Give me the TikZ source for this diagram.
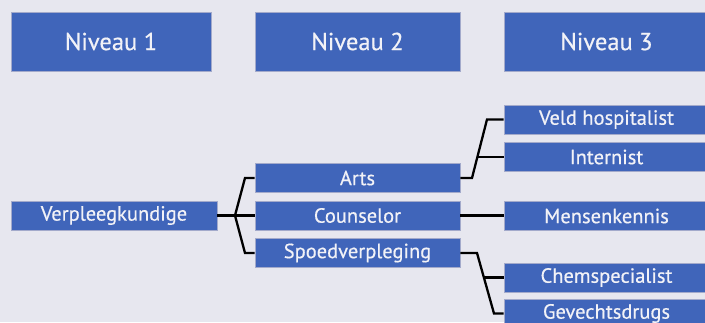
\documentclass[tikz,border=0pt]{standalone}
\usepackage{fontspec}
\setmainfont{PT Sans}[UprightFeatures={FakeBold=0.5}]
\definecolor{bg}{HTML}{E7E7EF}
\definecolor{boxblue}{HTML}{4065BA}
\definecolor{boxedge}{HTML}{A3AACB}
\definecolor{boxtext}{HTML}{F2F2F7}
\tikzset{
  base/.style={fill=boxblue, draw=boxedge, line width=0.8pt, text=boxtext, inner sep=0pt, anchor=center},
  header/.style={base, minimum width=200pt, minimum height=59pt, font=\fontsize{24.5}{24.5}\selectfont},
  item/.style={base, minimum width=205pt, minimum height=29pt, font=\fontsize{20.5}{20.5}\selectfont},
  link/.style={draw=black, line width=2.3pt}
}
\begin{document}
\begin{tikzpicture}[x=1pt,y=-1pt]
\fill[bg] (0,0) rectangle (705,322);
\useasboundingbox (0,0) rectangle (705,322);
% headers
\node[header] (n1) at (111,41.5) {Niveau 1};
\node[header, minimum width=205pt] (n2) at (357.5,41.5) {Niveau 2};
\node[header, minimum width=205pt] (n3) at (606.5,41.5) {Niveau 3};
% level 1
\node[item, minimum width=206pt] (verp) at (114,215.5) {Verpleegkundige};
% level 2
\node[item] (arts) at (357.5,178) {Arts};
\node[item] (couns) at (357.5,215.5) {Counselor};
\node[item] (spoed) at (357.5,253) {Spoedverpleging};
% level 3
\node[item] (veld) at (606.5,119.5) {Veld hospitalist};
\node[item] (intern) at (606.5,157) {Internist};
\node[item] (mensen) at (606.5,216) {Mensenkennis};
\node[item] (chem) at (606.5,277.5) {Chemspecialist};
\node[item] (gev) at (606.5,313.5) {Gevechtsdrugs};
% connectors level 1 -> 2
\coordinate (j1) at (235,215.5);
\coordinate (j1a) at (245,178);
\coordinate (j1c) at (245,253);
\draw[link] (verp.east) -- (j1);
\draw[link] (j1) -- (j1a) -- (arts.west);
\draw[link] (j1) -- (couns.west);
\draw[link] (j1) -- (j1c) -- (spoed.west);
% arts -> veld, internist
\coordinate (a1) at (472,178);
\coordinate (a2) at (487,119.5);
\coordinate (a3) at (476.8,157);
\draw[link] (arts.east) -- (a1) -- (a2) -- (veld.west);
\draw[link] (a3) -- (intern.west);
% counselor -> mensenkennis
\draw[link] (couns.east) -- (couns.east -| mensen.west);
% spoed -> chem, gevecht
\coordinate (s1) at (477,253);
\coordinate (s2) at (494,313.5);
\coordinate (s3) at (483.9,277.5);
\draw[link] (spoed.east) -- (s1) -- (s2) -- (gev.west);
\draw[link] (s3) -- (chem.west);
\end{tikzpicture}
\end{document}
